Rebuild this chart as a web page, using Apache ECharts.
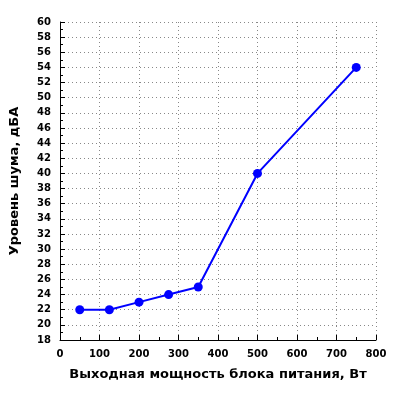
<!DOCTYPE html>
<html lang="ru">
<head>
<meta charset="UTF-8">
<title>Уровень шума</title>
<script src="https://cdn.jsdelivr.net/npm/echarts@6/dist/echarts.min.js"></script>
<style>
html, body { margin: 0; padding: 0; background: #fff; }
#chart { width: 400px; height: 400px; }
</style>
</head>
<body>
<div id="chart"></div>
<script>
const powerW = [50, 125, 200, 275, 350, 500, 750];
const noiseDb = [22, 22, 23, 24, 25, 40, 54];
const xTitle = 'Выходная мощность блока питания, Вт';
const yTitle = 'Уровень шума, дБА';

const font = 'DejaVu Sans';
const chart = echarts.init(document.getElementById('chart'));
chart.setOption({
animation: false,
grid: { left: 58, right: 24, top: 22, bottom: 60 },
xAxis: {
type: 'value',
min: 0,
max: 800,
interval: 100,
name: xTitle,
nameLocation: 'middle',
nameGap: 28,
nameTextStyle: { fontFamily: font, fontWeight: 'bold', fontSize: 13, color: '#000' },
axisLine: { lineStyle: { color: '#000', width: 1 } },
axisTick: { inside: true, length: 5, lineStyle: { color: '#000' } },
minorTick: { show: true, splitNumber: 2, length: 3, lineStyle: { color: '#000' } },
axisLabel: { fontFamily: font, fontWeight: 'bold', fontSize: 10, color: '#000', margin: 9 },
splitLine: { lineStyle: { color: '#888', type: [1, 3] } }
},
yAxis: {
type: 'value',
min: 18,
max: 60,
interval: 2,
name: yTitle,
nameLocation: 'middle',
nameGap: 39,
nameTextStyle: { fontFamily: font, fontWeight: 'bold', fontSize: 13, color: '#000' },
axisLine: { show: true, lineStyle: { color: '#000', width: 1 } },
axisTick: { show: true, inside: true, length: 5, lineStyle: { color: '#000' } },
minorTick: { show: true, splitNumber: 2, length: 3, lineStyle: { color: '#000' } },
axisLabel: { fontFamily: font, fontWeight: 'bold', fontSize: 10, color: '#000', margin: 9 },
splitLine: { lineStyle: { color: '#888', type: [1, 3] } }
},
series: [{
type: 'line',
data: powerW.map((x, i) => [x, noiseDb[i]]),
symbol: 'circle',
symbolSize: 9,
lineStyle: { color: '#0000ff', width: 2 },
itemStyle: { color: '#0000ff' }
}]
});
</script>
</body>
</html>
